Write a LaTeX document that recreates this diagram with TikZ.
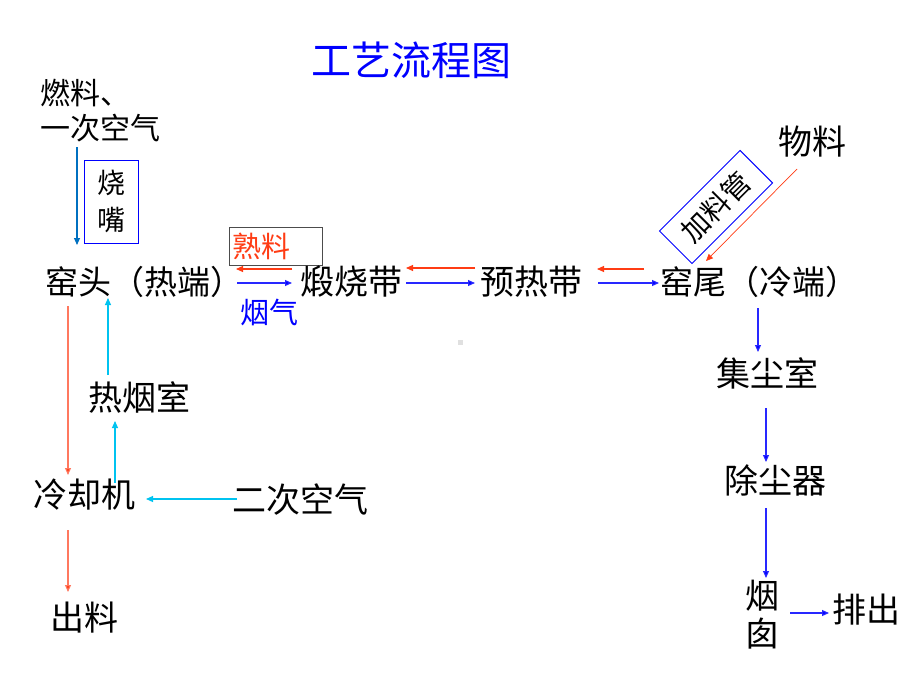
\documentclass[tikz,border=0pt]{standalone}
\usepackage{fontspec}
\setmainfont{Noto Sans CJK SC}
\usetikzlibrary{arrows.meta}
\definecolor{tblue}{RGB}{0,0,255}
\definecolor{sred}{RGB}{255,60,20}
\definecolor{salm}{RGB}{255,120,95}
\definecolor{cyanb}{RGB}{0,195,240}
\definecolor{teal}{RGB}{0,112,192}
\definecolor{barr}{RGB}{40,40,255}
\begin{document}
\begin{tikzpicture}[x=1pt,y=-1pt,
  lbl/.style={inner sep=0pt, font=\fontsize{34}{38}\selectfont},
  lblw/.style={inner sep=0pt, font=\fontsize{33}{38}\selectfont},
  sm/.style={inner sep=0pt, font=\fontsize{29}{35}\selectfont},
  arr/.style={-{Triangle[length=7pt,width=6pt]}, line width=1.1pt},
  redarr/.style={arr, draw=sred, -{Triangle[length=7pt,width=6pt,fill=sred]}},
  salarr/.style={arr, draw=salm, -{Triangle[length=7pt,width=6pt,fill=sred]}},
  bluearr/.style={arr, draw=barr, -{Triangle[length=7pt,width=6pt,fill=tblue]}},
  cyanarr/.style={arr, draw=cyanb},
  tealarr/.style={arr, draw=teal}]
\useasboundingbox (0,0) rectangle (920,690);
\fill[white] (0,0) rectangle (920,690);

% title
\node[inner sep=0pt, font=\fontsize{40}{44}\selectfont, text=tblue] (title) at (411,60) {工艺流程图};

% left column
\node[sm, anchor=west, font=\fontsize{30}{34}\selectfont] (ranliao) at (40,93) {燃料、};
\node[sm, anchor=west, font=\fontsize{30}{34}\selectfont] (yici) at (40,128) {一次空气};
\node[draw=tblue, line width=0.9pt, minimum width=54pt, minimum height=83pt, inner sep=0pt] (shaozui) at (111,201.5) {};
\node[sm, align=center, font=\fontsize{28}{37}\selectfont] (shaozuit) at (111,201.5) {烧\\嘴};

\node[lblw, anchor=west] (yaotou) at (45,282) {窑头（热端）};
\node[draw=black!70, line width=0.9pt, minimum width=93pt, minimum height=38pt, inner sep=0pt] (shuliaobox) at (275.5,246) {};
\node[sm, anchor=west, text=sred] (shuliao) at (232,246) {熟料};
\node[sm, anchor=west, text=tblue] (yanqi) at (240,312) {烟气};
\node[lbl, anchor=west] (duanshao) at (300,282) {煅烧带};
\node[lbl, anchor=west] (yure) at (480,282) {预热带};
\node[lblw, anchor=west] (yaowei) at (660,282) {窑尾（冷端）};

\node[lbl, anchor=west] (wuliao) at (778,142) {物料};
\node[draw=tblue, line width=0.9pt, rotate=45, minimum width=114pt, minimum height=46pt, inner sep=0pt,
      font=\fontsize{28}{32}\selectfont] (jialiao) at (716,207) {加料管};

\node[lbl, anchor=west] (rexian) at (88,397) {热烟室};
\node[lbl, anchor=west] (lengque) at (33,495) {冷却机};
\node[lbl, anchor=west] (erci) at (232,500) {二次空气};
\node[lbl, anchor=west] (chuliao) at (50,618) {出料};

\node[lbl, anchor=west] (jichen) at (716,373) {集尘室};
\node[lbl, anchor=west] (chuchen) at (724,480) {除尘器};
\node[lbl, align=center, font=\fontsize{34}{38}\selectfont] (yancong) at (762,615) {烟\\囱};
\node[lbl, anchor=west] (paichu) at (832,610) {排出};

\fill[black!12] (457.5,339.5) rectangle (462.5,344.5);

% connectors
\coordinate (a1s) at (77,147); \coordinate (a1e) at (77,245);
\draw[tealarr] (a1s) -- (a1e);

\coordinate (r1s) at (292,269); \coordinate (r1e) at (236,269);
\draw[redarr] (r1s) -- (r1e);
\coordinate (b1s) at (237,283); \coordinate (b1e) at (292,283);
\draw[bluearr] (b1s) -- (b1e);

\coordinate (r2s) at (475,268); \coordinate (r2e) at (406,268);
\draw[redarr] (r2s) -- (r2e);
\coordinate (b2s) at (406,283); \coordinate (b2e) at (475,283);
\draw[bluearr] (b2s) -- (b2e);

\coordinate (r3s) at (644,269); \coordinate (r3e) at (597,269);
\draw[redarr] (r3s) -- (r3e);
\coordinate (b3s) at (598,283); \coordinate (b3e) at (659,283);
\draw[bluearr] (b3s) -- (b3e);

\coordinate (r4s) at (797,169); \coordinate (r4e) at (706,261);
\draw[redarr, line width=0.7pt] (r4s) -- (r4e);

\coordinate (c1s) at (758,308); \coordinate (c1e) at (758,352);
\draw[bluearr] (c1s) -- (c1e);
\coordinate (c2s) at (766,408); \coordinate (c2e) at (766,462);
\draw[bluearr] (c2s) -- (c2e);
\coordinate (c3s) at (766,508); \coordinate (c3e) at (766,578);
\draw[bluearr] (c3s) -- (c3e);
\coordinate (c4s) at (790,613); \coordinate (c4e) at (829,613);
\draw[bluearr] (c4s) -- (c4e);

\coordinate (l1s) at (68,306); \coordinate (l1e) at (68,475);
\draw[salarr] (l1s) -- (l1e);
\coordinate (l2s) at (108,375); \coordinate (l2e) at (108,298);
\draw[cyanarr] (l2s) -- (l2e);
\coordinate (l3s) at (115,483); \coordinate (l3e) at (115,421);
\draw[cyanarr] (l3s) -- (l3e);
\coordinate (l4s) at (237,499); \coordinate (l4e) at (146,499);
\draw[cyanarr] (l4s) -- (l4e);
\coordinate (l5s) at (68,530); \coordinate (l5e) at (68,592);
\draw[salarr] (l5s) -- (l5e);
\end{tikzpicture}
\end{document}
